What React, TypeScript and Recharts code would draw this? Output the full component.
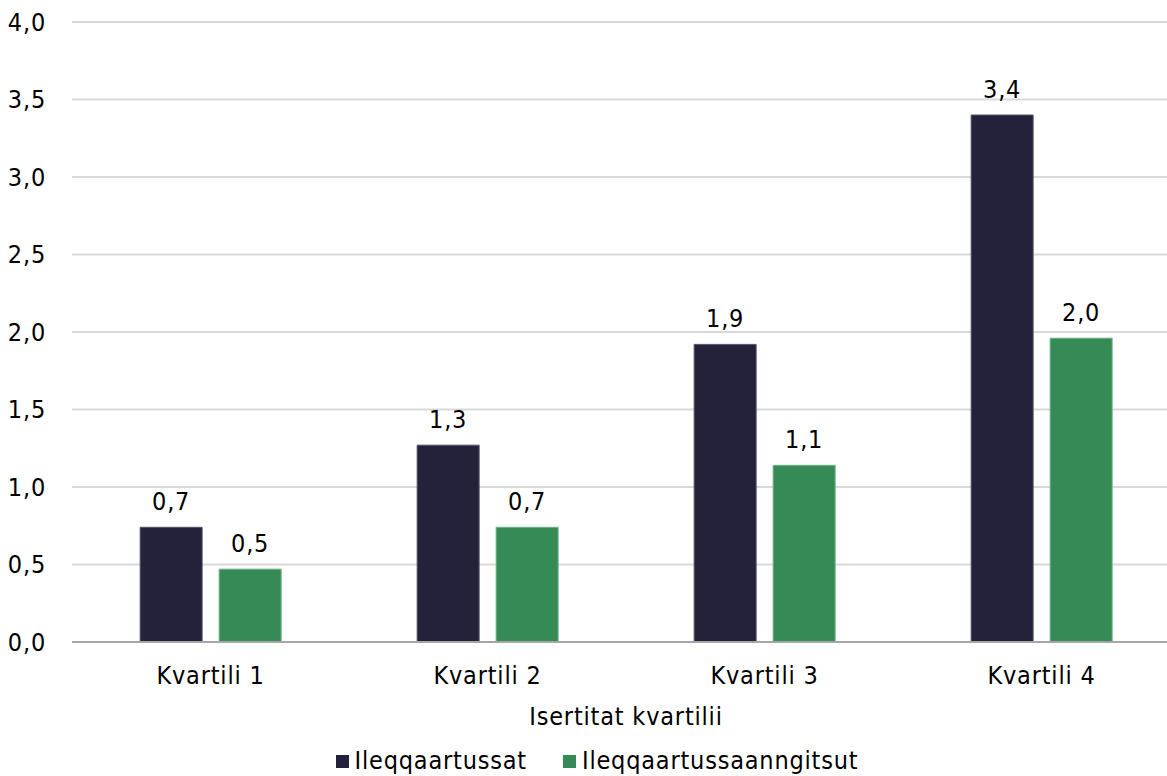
import { BarChart, Bar, XAxis, YAxis, CartesianGrid, Legend, LabelList, ReferenceLine } from "recharts";

const categories = ["Kvartili 1", "Kvartili 2", "Kvartili 3", "Kvartili 4"];
const ileqqaartussat = [0.74, 1.27, 1.92, 3.4];
const ileqqaartussaanngitsut = [0.47, 0.74, 1.14, 1.96];
const yTicks = [0, 0.5, 1, 1.5, 2, 2.5, 3, 3.5, 4];

const DARK = "#23223a";
const GREEN = "#358a55";
const FONT = "'DejaVu Sans Condensed', 'DejaVu Sans', sans-serif";
const FS = 25;
const LS = "0.8px";

const data = categories.map((name, i) => ({
  name,
  a: ileqqaartussat[i],
  b: ileqqaartussaanngitsut[i],
}));

const comma = (v: number) => v.toFixed(1).replace(".", ",");

const SERIES = [
  { key: "a", label: "Ileqqaartussat", color: DARK, border: "#55546a" },
  { key: "b", label: "Ileqqaartussaanngitsut", color: GREEN, border: "#6fb386" },
];

function LegendContent() {
  return (
    <div style={{ display: "flex", justifyContent: "center", gap: 36, fontFamily: FONT, fontSize: FS, letterSpacing: LS, color: "#000", marginLeft: 14, marginTop: 4, lineHeight: "30px" }}>
      {SERIES.map((s) => (
        <div key={s.key} style={{ display: "flex", alignItems: "center", gap: 6 }}>
          <span style={{ width: 13, height: 13, background: s.color, display: "inline-block" }} />
          <span>{s.label}</span>
        </div>
      ))}
    </div>
  );
}

export default function App() {
  return (
    <div style={{ position: "absolute", left: 0, top: 0, width: 1167, height: 776, overflow: "hidden", background: "#fff" }}>
      <BarChart
        width={1180}
        height={776}
        data={data}
        margin={{ top: 22, right: 0, left: 0, bottom: 2 }}
        barCategoryGap="24.6%"
        barGap={17}
        style={{ fontFamily: FONT, letterSpacing: LS }}
      >
        <CartesianGrid vertical={false} stroke="#d9d9d9" strokeWidth={2} />
        <XAxis
          dataKey="name"
          axisLine={false}
          tickLine={false}
          tick={{ fontSize: FS, fill: "#000" }}
          tickMargin={18}
          height={100}
          label={{ value: "Isertitat kvartilii", position: "insideBottom", offset: 17, fontSize: FS, fill: "#000" }}
        />
        <YAxis
          width={72}
          domain={[0, 4]}
          ticks={yTicks}
          tickFormatter={comma}
          axisLine={false}
          tickLine={false}
          tick={{ fontSize: FS, fill: "#000" }}
          tickMargin={20}
        />
        <ReferenceLine y={0} stroke="#a6a6a6" strokeWidth={2} />
        <Legend verticalAlign="bottom" height={32} content={<LegendContent />} />
        {SERIES.map((s) => (
          <Bar key={s.key} dataKey={s.key} name={s.label} fill={s.color} stroke={s.border} strokeWidth={1} isAnimationActive={false}>
            <LabelList dataKey={s.key} position="top" offset={17} formatter={(v: any) => comma(Number(v))} style={{ fontSize: FS, fill: "#000" }} />
          </Bar>
        ))}
      </BarChart>
    </div>
  );
}
